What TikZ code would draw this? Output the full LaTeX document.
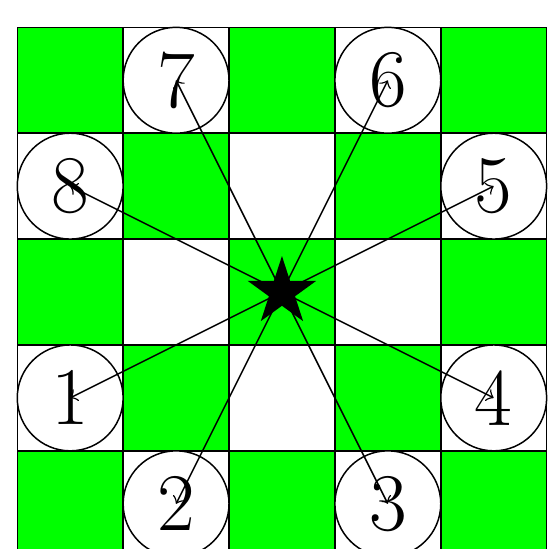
\documentclass[tikz,border=0pt]{standalone}
\usepackage{fontspec}
\usetikzlibrary{shapes.geometric}

\tikzset{
  field/.style={draw,thin},
  jump/.style={circle,draw,thin,fill=white,minimum size=1cm,inner sep=0pt,
    font=\fontsize{22}{26}\selectfont},
  knight/.style={star,star points=5,star point ratio=2.618,fill=black,
    minimum size=0.68cm,inner sep=0pt}
}

\begin{document}
\begin{tikzpicture}[x=1cm,y=1cm]
  \clip (-0.163,0.074) rectangle (5.022,5.258);
  % board
  \foreach \i in {0,...,4}{
    \foreach \j in {0,...,4}{
      \pgfmathparse{int(mod(\i+\j,2))}
      \ifnum\pgfmathresult=0
        \draw[field,fill=green] (\i,\j) rectangle ++(1,1);
      \else
        \draw[field,fill=white] (\i,\j) rectangle ++(1,1);
      \fi
    }
  }
  % the eight moves
  \node[jump] (m1) at (0.5,1.5) {1};
  \node[jump] (m2) at (1.5,0.5) {2};
  \node[jump] (m3) at (3.5,0.5) {3};
  \node[jump] (m4) at (4.5,1.5) {4};
  \node[jump] (m5) at (4.5,3.5) {5};
  \node[jump] (m6) at (3.5,4.5) {6};
  \node[jump] (m7) at (1.5,4.5) {7};
  \node[jump] (m8) at (0.5,3.5) {8};
  \coordinate (k) at (2.5,2.5);
  \foreach \m in {1,...,8}
    \draw[->,thin] (k) -- (m\m.center);
  \node[knight] (kn) at (k) {};
\end{tikzpicture}
\end{document}
